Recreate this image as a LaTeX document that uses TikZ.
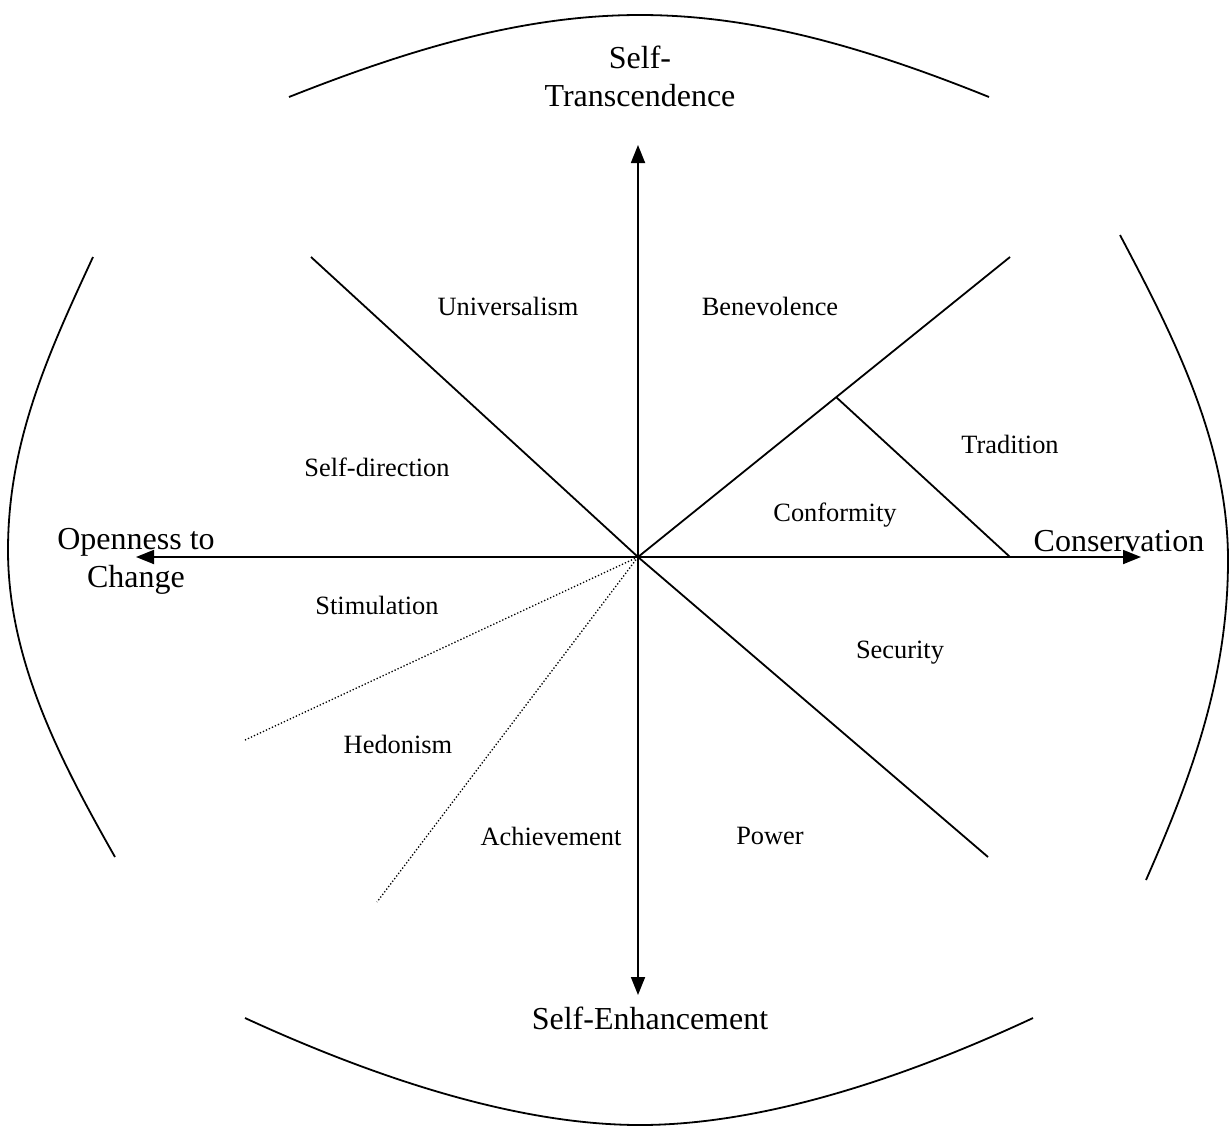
\documentclass[tikz,border=0pt]{standalone}
\usepackage{fontspec}
\setmainfont{Liberation Serif}
\usetikzlibrary{arrows.meta}

\begin{document}
\begin{tikzpicture}[x=1pt,y=-1pt,line width=1.8pt,
  axis/.style={black,{Triangle[length=18pt,width=14pt]}-{Triangle[length=18pt,width=14pt]}},
  split/.style={black},
  guess/.style={black,line width=1.3pt,dotted},
  bulge/.style={black,line width=1.8pt},
  value/.style={inner sep=0pt,font=\fontsize{26.4}{30}\selectfont},
  pole/.style={inner sep=0pt,align=center,font=\fontsize{32}{38}\selectfont}]
\useasboundingbox (0,0) rectangle (1230,1136);
% axes
\coordinate (o) at (638,557);
\coordinate (top) at (638,145);
\coordinate (bot) at (638,995);
\coordinate (lft) at (136,557);
\coordinate (rgt) at (1141,557);
\draw [axis] (top) -- (bot);
\draw [axis] (lft) -- (rgt);
% sector lines
\coordinate (ul) at (311,257);
\coordinate (lr) at (988,857);
\coordinate (ur) at (1010,257);
\coordinate (cf) at (836,397);
\coordinate (tr) at (1010,557);
\coordinate (dl) at (245,740);
\coordinate (dd) at (377,902);
\draw [split] (ul) -- (o) -- (lr);
\draw [split] (o) -- (ur);
\draw [split] (cf) -- (tr);
\draw [guess] (o) -- (dl);
\draw [guess] (o) -- (dd);
% outer curves
\draw [bulge] (289,97) .. controls (420,45) and (530,15) .. (640,15)
  .. controls (750,15) and (860,45) .. (989,97);
\draw [bulge] (245,1018) .. controls (380,1080) and (520,1125) .. (640,1125)
  .. controls (760,1125) and (900,1080) .. (1033,1018);
\draw [bulge] (93,257) .. controls (50,350) and (8,440) .. (8,550)
  .. controls (8,660) and (60,760) .. (115,857);
\draw [bulge] (1120,235) .. controls (1170,330) and (1228,440) .. (1228,560)
  .. controls (1228,680) and (1190,780) .. (1146,880);
% poles
\node [pole] (trans) at (640,76) {Self-\\Transcendence};
\node [pole] (open) at (136,561) {Openness to\\Change};
\node [pole] (cons) at (1119,541) {Conservation};
\node [pole] (enh) at (650,1018) {Self-Enhancement};
% values
\node [value] (univ) at (508,306) {Universalism};
\node [value] (bene) at (770,306) {Benevolence};
\node [value] (trad) at (1010,444) {Tradition};
\node [value] (sdir) at (377,467) {Self-direction};
\node [value] (conf) at (835,515) {Conformity};
\node [value] (stim) at (377,605) {Stimulation};
\node [value] (secu) at (900,653) {Security};
\node [value] (hedo) at (398,744) {Hedonism};
\node [value] (achi) at (551,836) {Achievement};
\node [value] (powr) at (770,836) {Power};
\end{tikzpicture}
\end{document}
